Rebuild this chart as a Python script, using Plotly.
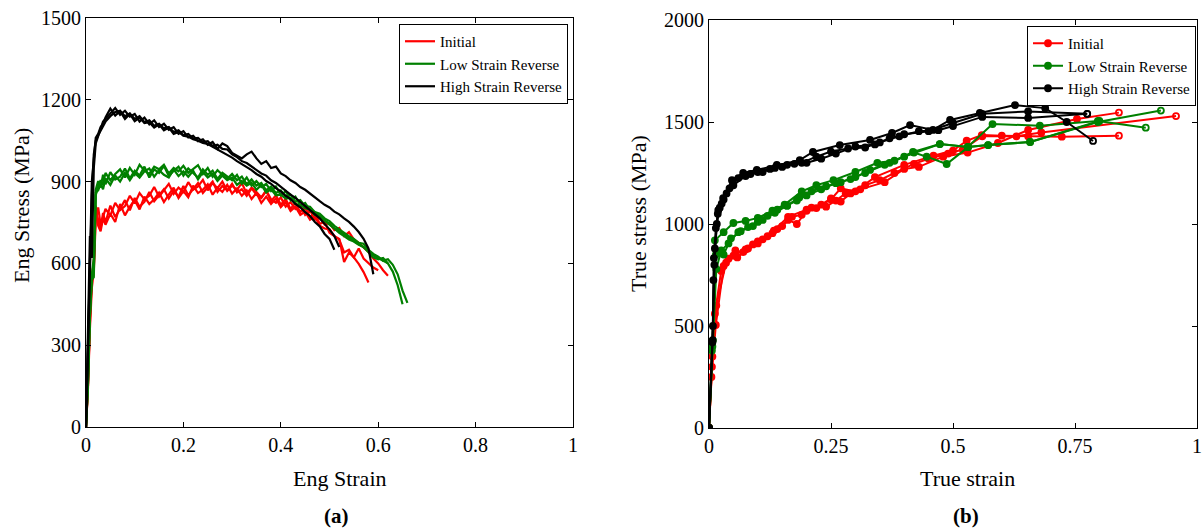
import plotly.graph_objects as go

# ---------------- (a) Engineering stress-strain data ----------------
ENG_STRAIN = [0, 0.004, 0.008, 0.012, 0.016, 0.02, 0.025, 0.03, 0.035, 0.04,
              0.05, 0.06, 0.07, 0.08, 0.09,
              0.10, 0.11, 0.12, 0.13, 0.14, 0.15, 0.16, 0.17, 0.18, 0.19,
              0.20, 0.21, 0.22, 0.23, 0.24, 0.25, 0.26, 0.27, 0.28, 0.29,
              0.30, 0.31, 0.32, 0.33, 0.34, 0.35, 0.36, 0.37, 0.38, 0.39,
              0.40, 0.41, 0.42, 0.43, 0.44, 0.45, 0.46, 0.47, 0.48, 0.49,
              0.50, 0.51, 0.52, 0.53, 0.54, 0.55, 0.56, 0.57, 0.58, 0.59,
              0.60, 0.61, 0.62, 0.63, 0.64, 0.65, 0.66]

ENG_INITIAL = [
    [0, 150, 380, 540, 580, 790, 760, 728, 785, 750,
     812, 770, 800, 832, 795,
     840, 808, 826, 862, 828, 850, 872, 838, 866, 845,
     884, 850, 872, 895, 858, 880, 900, 862, 884, 868,
     892, 860, 872, 848, 875, 852, 840, 866, 828, 850,
     815, 836, 800, 822, 788, 806, 770, 785, 745, 752,
     712, 700, 688, 640, 650, 622, 598, 568, 530],
    [0, 140, 360, 510, 570, 760, 805, 742, 770, 800,
     776, 822, 795, 810, 848,
     820, 858, 835, 848, 880, 845, 868, 892, 855, 878,
     862, 898, 870, 882, 906, 868, 895, 876, 900, 866,
     885, 870, 895, 856, 878, 862, 842, 868, 835, 822,
     842, 808, 825, 800, 812, 778, 795, 760, 772, 742,
     748, 722, 730, 700, 715, 688, 675, 658, 642, 618,
     600, 575, 555],
    [0, 160, 400, 560, 600, 812, 738, 718, 765, 742,
     782, 752, 818, 776, 808,
     832, 798, 845, 818, 835, 860, 825, 852, 878, 840,
     865, 842, 885, 858, 870, 890, 852, 878, 862, 888,
     856, 875, 848, 868, 836, 858, 822, 845, 818, 838,
     806, 825, 792, 808, 778, 790, 760, 772, 738, 728,
     725, 700, 690, 605, 640, 622, 655, 618, 600, 585,
     575],
]

ENG_LOW = [
    [0, 170, 420, 560, 620, 870, 902, 878, 925, 890,
     935, 908, 918, 948, 912,
     940, 922, 955, 915, 945, 932, 958, 920, 940, 955,
     922, 948, 930, 915, 945, 925, 940, 910, 932, 918,
     905, 925, 892, 915, 885, 902, 880, 892, 865, 882,
     850, 865, 832, 845, 812, 822, 795, 788, 772, 758,
     742, 728, 712, 700, 688, 680, 668, 660, 640, 622,
     615, 620, 600, 570, 520, 450],
    [0, 150, 400, 540, 550, 850, 882, 905, 888, 932,
     905, 928, 945, 915, 950,
     925, 962, 940, 928, 955, 945, 962, 930, 950, 938,
     958, 932, 945, 960, 928, 950, 918, 942, 925, 910,
     928, 905, 918, 890, 908, 885, 895, 868, 882, 858,
     868, 845, 852, 826, 832, 810, 808, 788, 782, 765,
     755, 738, 725, 712, 700, 690, 675, 672, 650, 635,
     625, 610, 615, 595, 560, 500, 455],
    [0, 160, 410, 550, 580, 860, 868, 892, 872, 912,
     888, 922, 900, 932, 905,
     932, 915, 938, 948, 918, 942, 925, 915, 945, 920,
     938, 918, 940, 908, 935, 915, 928, 902, 922, 905,
     915, 888, 902, 885, 896, 870, 888, 860, 872, 850,
     852, 838, 840, 818, 815, 802, 798, 778, 775, 758,
     745, 728, 718, 705, 695, 682, 672, 660, 645, 630,
     620, 610, 600],
]

ENG_HIGH = [
    [0, 300, 600, 900, 980, 1060, 1075, 1100, 1112, 1135,
     1168, 1142, 1158, 1130, 1148,
     1122, 1135, 1115, 1118, 1098, 1110, 1088, 1098, 1075, 1082,
     1068, 1065, 1055, 1050, 1042, 1038, 1028, 1020, 1008, 998,
     988, 975, 965, 952, 942, 928, 918, 902, 892, 876,
     864, 848, 836, 818, 806, 788, 774, 752, 736, 708,
     690, 650],
    [0, 350, 700, 620, 950, 1040, 1065, 1090, 1120, 1130,
     1150, 1170, 1145, 1160, 1138,
     1148, 1120, 1135, 1110, 1125, 1100, 1112, 1090, 1100, 1075,
     1085, 1062, 1068, 1048, 1055, 1035, 1045, 1020, 1040, 1030,
     1005, 995, 985, 1000, 1010, 985, 965, 975, 950, 955,
     930, 920, 905, 895, 880, 870, 855, 842, 828, 815,
     805, 790, 780, 765, 752, 735, 715, 690, 655, 560],
    [0, 320, 650, 850, 1000, 1050, 1070, 1085, 1105, 1120,
     1140, 1155, 1160, 1140, 1150,
     1130, 1140, 1118, 1125, 1105, 1112, 1095, 1100, 1082, 1088,
     1070, 1075, 1058, 1060, 1045, 1048, 1030, 1035, 1020, 1018,
     1000, 990, 975, 968, 955, 945, 930, 922, 905, 895,
     880, 868, 852, 840, 825, 812, 795, 780, 765, 745,
     725, 700, 660],
]

# ---------------- (b) True stress-strain data ----------------
TRUE_INITIAL_X = [
    [0, 0.005, 0.014, 0.03, 0.054, 0.07, 0.1, 0.133, 0.162, 0.2, 0.22, 0.25, 0.27, 0.3,
     0.34, 0.4, 0.46, 0.5, 0.528, 0.559, 0.6, 0.654, 0.723, 0.84],
    [0, 0.006, 0.012, 0.025, 0.04, 0.058, 0.08, 0.1, 0.12, 0.14, 0.162, 0.18, 0.2, 0.23,
     0.25, 0.27, 0.29, 0.31, 0.36, 0.4, 0.43, 0.48, 0.53, 0.592, 0.654, 0.754, 0.84],
    [0, 0.007, 0.015, 0.035, 0.05, 0.075, 0.09, 0.11, 0.13, 0.15, 0.17, 0.19, 0.21, 0.24,
     0.26, 0.28, 0.32, 0.35, 0.38, 0.42, 0.45, 0.49, 0.52, 0.56, 0.63, 0.681, 0.957],
]
TRUE_INITIAL_Y = [
    [0, 250, 505, 794, 870, 862, 905, 968, 1035, 1070, 1078, 1120, 1175, 1160,
     1230, 1290, 1335, 1360, 1408, 1436, 1433, 1430, 1428, 1433],
    [0, 300, 560, 770, 830, 836, 880, 915, 940, 975, 1020, 1000, 1065, 1095,
     1125, 1110, 1150, 1170, 1205, 1270, 1280, 1330, 1350, 1397, 1461, 1515, 1546],
    [0, 350, 600, 810, 845, 875, 900, 925, 955, 990, 1035, 1045, 1080, 1085,
     1115, 1150, 1190, 1215, 1250, 1295, 1320, 1345, 1365, 1430, 1430, 1449, 1529],
]

TRUE_LOW_X = [
    [0, 0.008, 0.012, 0.03, 0.05, 0.075, 0.1, 0.13, 0.155, 0.19, 0.22, 0.255, 0.3, 0.345,
     0.38, 0.42, 0.446, 0.487, 0.531, 0.572, 0.658, 0.797, 0.926],
    [0, 0.007, 0.015, 0.025, 0.04, 0.06, 0.08, 0.1, 0.12, 0.14, 0.16, 0.18, 0.2, 0.23,
     0.26, 0.29, 0.32, 0.36, 0.4, 0.473, 0.53, 0.581, 0.678, 0.797, 0.895],
    [0, 0.006, 0.014, 0.03, 0.045, 0.065, 0.09, 0.11, 0.135, 0.16, 0.185, 0.21, 0.24, 0.27,
     0.3, 0.33, 0.37, 0.418, 0.473, 0.531, 0.572, 0.658, 0.8],
]
TRUE_LOW_Y = [
    [0, 430, 920, 960, 1005, 1015, 1030, 1065, 1095, 1160, 1190, 1215, 1255, 1300,
     1310, 1350, 1330, 1294, 1377, 1387, 1402, 1500, 1556],
    [0, 400, 780, 870, 905, 960, 985, 1010, 1040, 1070, 1090, 1115, 1140, 1170,
     1200, 1220, 1250, 1290, 1330, 1392, 1378, 1490, 1482, 1505, 1472],
    [0, 380, 850, 850, 930, 965, 990, 1020, 1055, 1090, 1130, 1160, 1185, 1205,
     1230, 1265, 1300, 1353, 1392, 1377, 1387, 1402, 1505],
]

TRUE_HIGH_X = [
    [0, 0.0075, 0.009, 0.01, 0.014, 0.019, 0.029, 0.047, 0.07, 0.098, 0.139, 0.186, 0.213,
     0.268, 0.33, 0.375, 0.412, 0.459, 0.494, 0.555, 0.627, 0.689, 0.733, 0.787],
    [0, 0.008, 0.012, 0.018, 0.026, 0.036, 0.05, 0.075, 0.1, 0.125, 0.15, 0.175, 0.2,
     0.23, 0.26, 0.3, 0.34, 0.37, 0.4, 0.45, 0.5, 0.56, 0.654, 0.775],
    [0, 0.007, 0.011, 0.016, 0.022, 0.03, 0.042, 0.06, 0.085, 0.11, 0.135, 0.16, 0.19,
     0.22, 0.25, 0.285, 0.32, 0.35, 0.39, 0.43, 0.47, 0.5, 0.56, 0.654, 0.775],
]
TRUE_HIGH_Y = [
    [0, 431, 725, 833, 980, 1068, 1127, 1215, 1250, 1265, 1290, 1313, 1353,
     1387, 1412, 1446, 1485, 1461, 1510, 1544, 1583, 1568, 1500, 1407],
    [0, 500, 880, 1050, 1100, 1150, 1190, 1235, 1255, 1270, 1280, 1295, 1300,
     1320, 1345, 1380, 1390, 1420, 1440, 1455, 1495, 1540, 1552, 1540],
    [0, 420, 800, 1000, 1080, 1120, 1175, 1225, 1245, 1255, 1275, 1290, 1300,
     1330, 1355, 1370, 1375, 1400, 1430, 1455, 1460, 1480, 1525, 1520, 1540],
]

SERIES_NAMES = ["Initial", "Low Strain Reverse", "High Strain Reverse"]
SERIES_COLORS = ["#FF0000", "#008000", "#000000"]

X_TICKS_A = [0, 0.2, 0.4, 0.6, 0.8, 1]
X_TICKTEXT_A = ["0", "0.2", "0.4", "0.6", "0.8", "1"]
Y_TICKS_A = [0, 300, 600, 900, 1200, 1500]
X_TICKS_B = [0, 0.25, 0.5, 0.75, 1]
X_TICKTEXT_B = ["0", "0.25", "0.5", "0.75", "1"]
Y_TICKS_B = [0, 500, 1000, 1500, 2000]

FONT = "Liberation Serif"
W, H = 1204, 529

fig = go.Figure()

# (a) lines
for name, color, curves in zip(SERIES_NAMES, SERIES_COLORS, [ENG_INITIAL, ENG_LOW, ENG_HIGH]):
    for i, ys in enumerate(curves):
        fig.add_trace(go.Scatter(
            x=ENG_STRAIN[:len(ys)], y=ys, mode="lines",
            line=dict(color=color, width=2.2),
            name=name, showlegend=(i == 0), legend="legend",
            xaxis="x", yaxis="y"))

# (b) lines + markers (last point of each test drawn hollow)
for name, color, xs_list, ys_list in zip(SERIES_NAMES, SERIES_COLORS,
                                         [TRUE_INITIAL_X, TRUE_LOW_X, TRUE_HIGH_X],
                                         [TRUE_INITIAL_Y, TRUE_LOW_Y, TRUE_HIGH_Y]):
    for i, (xs, ys) in enumerate(zip(xs_list, ys_list)):
        symbols = ["circle"] * (len(xs) - 1) + ["circle-open"]
        fig.add_trace(go.Scatter(
            x=xs, y=ys, mode="lines+markers",
            line=dict(color=color, width=2),
            marker=dict(symbol=symbols, size=6, color=color,
                        line=dict(width=1.8, color=color)),
            name=name, showlegend=(i == 0), legend="legend2",
            xaxis="x2", yaxis="y2"))

axis_common = dict(
    showline=True, linecolor="black", linewidth=1, mirror="ticks",
    ticks="inside", ticklen=5, tickwidth=1, tickcolor="black",
    showgrid=False, zeroline=False, automargin=False,
    tickfont=dict(family=FONT, size=20, color="black"),
)

def px_x(p):
    return p / W

def px_y(p):
    return 1 - p / H

legend_common = dict(xanchor="right", yanchor="top",
                     bgcolor="white", bordercolor="black", borderwidth=1,
                     font=dict(family=FONT, size=15, color="black"),
                     tracegroupgap=0, itemwidth=30)

def label(text, x, y, size=22, angle=0):
    return dict(text=text, x=px_x(x), y=px_y(y), xref="paper", yref="paper",
                xanchor="center", yanchor="middle", showarrow=False, textangle=angle,
                font=dict(family=FONT, size=size, color="black"))

fig.update_layout(
    width=W, height=H,
    margin=dict(l=0, r=0, t=0, b=0, pad=0),
    paper_bgcolor="white", plot_bgcolor="white",
    font=dict(family=FONT, color="black"),
    xaxis=dict(domain=[px_x(86), px_x(573)], range=[0, 1], tickvals=X_TICKS_A,
               ticktext=X_TICKTEXT_A, anchor="y", **axis_common),
    yaxis=dict(domain=[px_y(427), px_y(18)], range=[0, 1500], tickvals=Y_TICKS_A,
               anchor="x", **axis_common),
    xaxis2=dict(domain=[px_x(709), px_x(1197)], range=[0, 1], tickvals=X_TICKS_B,
                ticktext=X_TICKTEXT_B, anchor="y2", **axis_common),
    yaxis2=dict(domain=[px_y(428), px_y(20)], range=[0, 2000], tickvals=Y_TICKS_B,
                anchor="x2", **axis_common),
    legend=dict(x=px_x(568), y=px_y(24), **legend_common),
    legend2=dict(x=px_x(1196), y=px_y(26), **legend_common),
    annotations=[
        label("Eng Strain", 340, 478),
        label("Eng Stress (MPa)", 22, 206, angle=-90),
        label("<b>(a)</b>", 336, 516, size=21),
        label("True strain", 967, 478),
        label("True stress (MPa)", 638, 214, angle=-90),
        label("<b>(b)</b>", 966, 516, size=21),
    ],
)

fig.write_html("out.html")
